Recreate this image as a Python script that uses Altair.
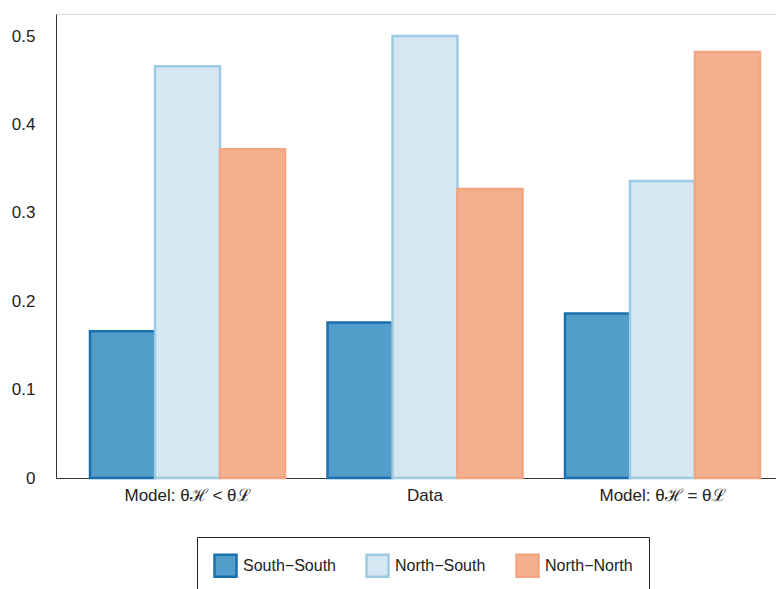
import altair as alt
import pandas as pd

groups = ["Model: θℋ < θℒ", "Data", "Model: θℋ = θℒ"]
series = ["South−South", "North−South", "North−North"]
south_south = [0.166, 0.176, 0.186]
north_south = [0.466, 0.500, 0.336]
north_north = [0.372, 0.327, 0.482]

fills = ["#539dcb", "#d4e7f3", "#f4af8e"]
strokes = ["#1a6faf", "#9dcbe3", "#f2a582"]

rows = []
for name, vals in zip(series, [south_south, north_south, north_north]):
    for g, v in zip(groups, vals):
        rows.append({"group": g, "series": name, "value": v})
df = pd.DataFrame(rows)

legend_opts = dict(title=None, orient="none", legendX=141, legendY=523,
                   direction="horizontal", columns=3, symbolType="square",
                   symbolSize=484, symbolStrokeWidth=2.5, labelFontSize=16,
                   labelOffset=5, columnPadding=25, padding=16,
                   strokeColor="#222222", fillColor="white",
                   labelColor="#222222", symbolOpacity=1)

chart = alt.Chart(df).mark_bar(strokeWidth=2.5).encode(
    x=alt.X("group:N", sort=groups, title=None,
            scale=alt.Scale(paddingInner=0.179, paddingOuter=0.1053, align=0.68),
            axis=alt.Axis(labelAngle=0, ticks=False, tickSize=0, labelPadding=9,
                          labelFontSize=17, domainColor="#333333", labelColor="#222222")),
    xOffset=alt.XOffset("series:N", sort=series, scale=alt.Scale(paddingInner=0, paddingOuter=0)),
    y=alt.Y("value:Q", title=None,
            scale=alt.Scale(domain=[0, 0.525], nice=False),
            axis=alt.Axis(values=[0, 0.1, 0.2, 0.3, 0.4, 0.5], format="~g", grid=False,
                          ticks=False, tickSize=0, labelPadding=21, labelFontSize=17,
                          domainColor="#333333", labelColor="#222222")),
    fill=alt.Fill("series:N", sort=series, scale=alt.Scale(domain=series, range=fills),
                  legend=alt.Legend(**legend_opts)),
    stroke=alt.Stroke("series:N", sort=series, scale=alt.Scale(domain=series, range=strokes),
                      legend=alt.Legend(**legend_opts)),
).properties(
    width=720, height=464,
    padding={"left": 48, "top": 6, "right": 0, "bottom": 111},
    autosize=alt.AutoSizeParams(type="none"),
).configure_view(stroke="transparent", strokeWidth=0).configure(font="Liberation Sans")

chart.save("out.html", embed_options={"renderer": "svg", "actions": False})
